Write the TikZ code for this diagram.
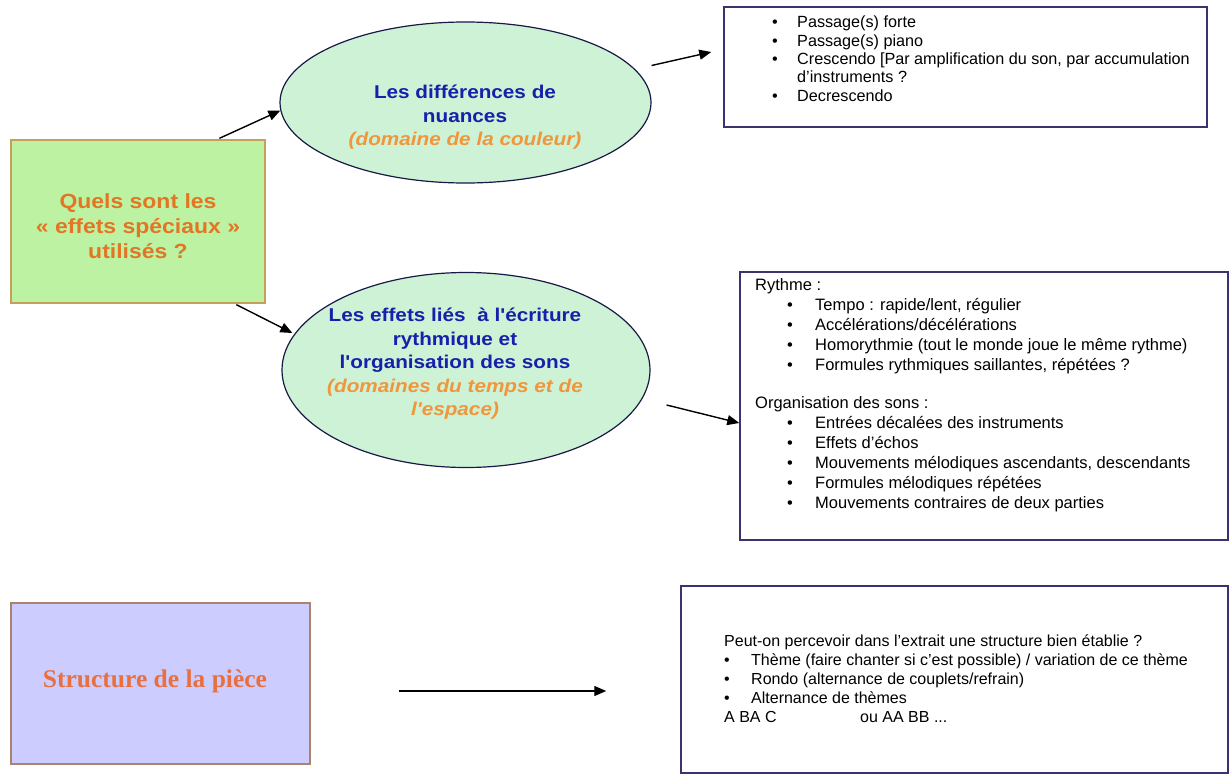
\documentclass[tikz,border=0pt]{standalone}
\usepackage{fontspec}
\setmainfont{Liberation Sans}
\newfontfamily\arw{Liberation Sans}[FakeStretch=1.12]
\newfontfamily\serifb{Liberation Serif}
\usetikzlibrary{shapes.geometric,calc,arrows.meta}
\definecolor{gfill}{RGB}{188,242,162}
\definecolor{gborder}{RGB}{196,160,90}
\definecolor{efill}{RGB}{206,242,214}
\definecolor{eborder}{RGB}{25,25,70}
\definecolor{orangeT}{RGB}{226,118,36}
\definecolor{orangeI}{RGB}{240,150,60}
\definecolor{blueT}{RGB}{22,32,170}
\definecolor{pfill}{RGB}{204,204,255}
\definecolor{pborder}{RGB}{170,130,110}
\definecolor{bborder}{RGB}{60,50,110}
\newcommand{\bulA}{\makebox[25pt][l]{•}}
\newcommand{\bulB}{\hspace*{32pt}\makebox[28pt][l]{•}}
\newcommand{\bulC}{\makebox[27pt][l]{•}}
\begin{document}
\begin{tikzpicture}[x=1pt,y=-1pt,
  arr/.style={line width=1.4pt,-{Triangle[length=12pt,width=10pt]}},
  rbox/.style={draw=bborder,fill=white,line width=1.5pt,inner sep=0},
  ell/.style={ellipse,draw=eborder,fill=efill,line width=1.2pt,inner sep=0},
  qbox/.style={draw=gborder,fill=gfill,line width=1.3pt,inner sep=0},
  pbox/.style={draw=pborder,fill=pfill,line width=1.3pt,inner sep=0},
  listtxt/.style={inner sep=0,anchor=north west,align=left},
  etxt/.style={inner sep=0,align=center,font=\arw\bfseries\fontsize{18.5}{23.5}\selectfont,text=blueT}
]
\useasboundingbox (0,0) rectangle (1230,776);
\fill[white] (0,0) rectangle (1230,776);

% left boxes
\node[qbox,minimum width=254pt,minimum height=163pt] (g) at (138,221.5) {};
\node[inner sep=0,align=center,text=orangeT,font=\arw\bfseries\fontsize{20.5}{25}\selectfont] (gt) at (138,226)
  {Quels sont les\\« effets spéciaux »\\utilisés ?};

\node[pbox,minimum width=299pt,minimum height=161pt] (p) at (160.5,683.5) {};
\node[inner sep=0,text={rgb,255:red,232;green,112;blue,64},font=\serifb\bfseries\fontsize{25.5}{30}\selectfont] (pt) at (155,681)
  {Structure de la pièce};

% ellipses
\node[ell,minimum width=371pt,minimum height=161pt] (e1) at (465.5,102.5) {};
\node[etxt] (e1t) at (465,117.5)
  {Les différences de\\nuances\\\textcolor{orangeI}{\itshape (domaine de la couleur)}};

\node[ell,minimum width=368pt,minimum height=195pt] (e2) at (466,370) {};
\node[etxt] (e2t) at (455,364)
  {Les effets liés\ \ à l'écriture\\rythmique et\\l'organisation des sons\\\textcolor{orangeI}{\itshape (domaines du temps et de}\\\textcolor{orangeI}{\itshape l'espace)}};

% right boxes
\node[rbox,minimum width=483pt,minimum height=120pt] (b1) at (965.5,67) {};
\node[listtxt,font=\fontsize{16.2}{18.3}\selectfont] (b1t) at (772,14.6)
  {\rule{0pt}{13pt}\bulA Passage(s) forte\\
   \bulA Passage(s) piano\\
   \bulA Crescendo [Par amplification du son, par accumulation\\
   \hspace*{25pt}d'instruments ?\\
   \bulA Decrescendo};

\node[rbox,minimum width=488pt,minimum height=268pt] (b2) at (984,406) {};
\node[listtxt,font=\fontsize{16.5}{20}\selectfont] (b2t) at (755,277.6)
  {\rule{0pt}{13pt}Rythme :\\
   \bulB Tempo : rapide/lent, régulier\\
   \bulB Accélérations/décélérations\\
   \bulB Homorythmie (tout le monde joue le même rythme)\\
   \bulB Formules rythmiques saillantes, répétées ?\\[18pt]
   Organisation des sons :\\
   \bulB Entrées décalées des instruments\\
   \bulB Effets d'échos\\
   \bulB Mouvements mélodiques ascendants, descendants\\
   \bulB Formules mélodiques répétées\\
   \bulB Mouvements contraires de deux parties};

\node[rbox,minimum width=547pt,minimum height=187pt] (b3) at (954.5,679.5) {};
\node[listtxt,font=\fontsize{16}{19}\selectfont] (b3t) at (724,633.6)
  {\rule{0pt}{13pt}Peut-on percevoir dans l'extrait une structure bien établie ?\\
   \bulC Thème (faire chanter si c'est possible) / variation de ce thème\\
   \bulC Rondo (alternance de couplets/refrain)\\
   \bulC Alternance de thèmes\\
   \makebox[136pt][l]{A BA C}ou AA BB ...};

% arrows
\draw[arr] ($(g.north west)+(209,-1)$) -- ($(e1.west)+(1,8)$);
\draw[arr] ($(g.south west)+(226,1)$) -- ($(e2.west)+(11,-37)$);
\coordinate (a3s) at ($(e1.east)+(0,-37)$);
\draw[arr] (a3s) -- ($(b1.west)+(-12,-15)$);
\coordinate (a4s) at ($(e2.east)+(16,35)$);
\draw[arr] (a4s) -- ($(b2.west)+(0,17)$);
\coordinate (a5s) at ($(p.east)+(88,7.5)$);
\coordinate (a5e) at ($(b3.west)+(-74,11.5)$);
\draw[arr] (a5s) -- (a5e);
\end{tikzpicture}
\end{document}
